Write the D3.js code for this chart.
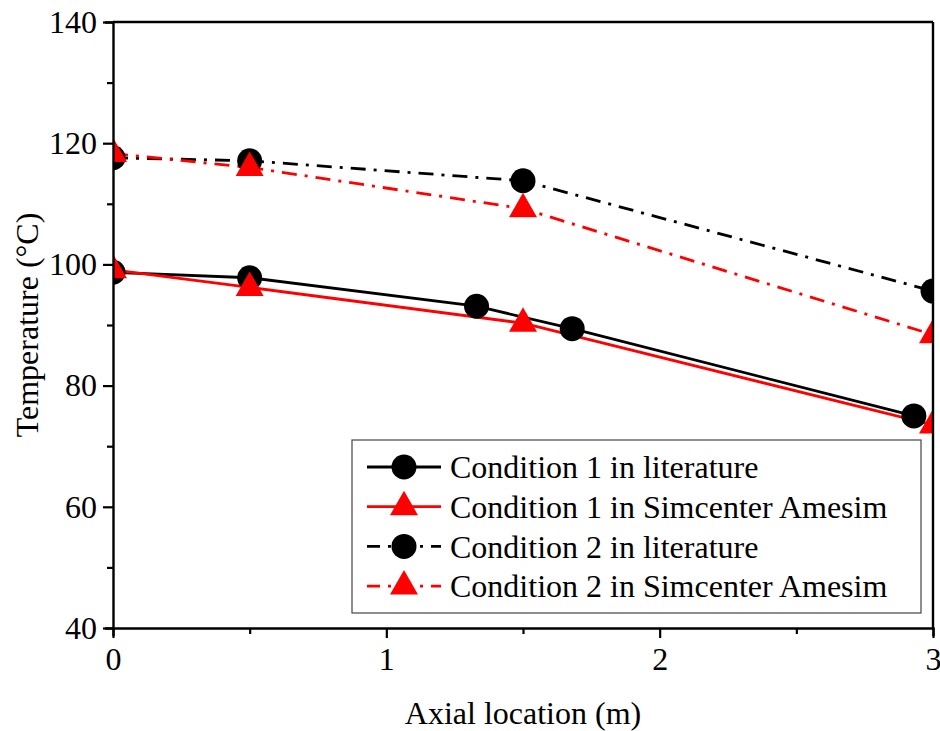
<!DOCTYPE html>
<html>
<head>
<meta charset="utf-8">
<script src="https://cdn.jsdelivr.net/npm/d3@7"></script>
<style>
  body { margin: 0; background: #fff; }
  text { font-family: "Liberation Serif", "Times New Roman", serif; }
</style>
</head>
<body>
<svg id="chart" width="940" height="731"></svg>
<script>
// data
var c1LitX = [0, 0.5, 1.33, 1.68, 2.93];
var c1LitY = [98.7, 97.8, 93.1, 89.4, 75.0];
var c1SimX = [0, 0.5, 1.5, 3];
var c1SimY = [99.1, 96.2, 90.3, 73.5];
var c2LitX = [0, 0.5, 1.5, 3];
var c2LitY = [117.6, 117.1, 113.8, 95.6];
var c2SimX = [0, 0.5, 1.5, 3];
var c2SimY = [118.3, 116.0, 109.2, 88.4];
var xTicks = [0, 1, 2, 3];
var yTicks = [40, 60, 80, 100, 120, 140];
var seriesNames = ['Condition 1 in literature', 'Condition 1 in Simcenter Amesim',
  'Condition 2 in literature', 'Condition 2 in Simcenter Amesim'];

var zip = (xs, ys) => xs.map((x, i) => ({x: x, y: ys[i]}));

var dashDot = '15,8,3,8';
var series = [
  {name: seriesNames[0], pts: zip(c1LitX, c1LitY), color: '#000', dash: null, marker: 'circle'},
  {name: seriesNames[1], pts: zip(c1SimX, c1SimY), color: '#ff0000', dash: null, marker: 'triangle'},
  {name: seriesNames[2], pts: zip(c2LitX, c2LitY), color: '#000', dash: dashDot, marker: 'circle'},
  {name: seriesNames[3], pts: zip(c2SimX, c2SimY), color: '#ff0000', dash: dashDot, marker: 'triangle'}
];

var mLeft = 113, mRight = 933, mTop = 22, mBottom = 628;
var svg = d3.select('#chart');

var x = d3.scaleLinear().domain([0, 3]).range([mLeft, mRight]);
var y = d3.scaleLinear().domain([40, 140]).range([mBottom, mTop]);

svg.append('clipPath').attr('id', 'plotclip').append('rect')
  .attr('x', mLeft).attr('y', mTop).attr('width', mRight - mLeft).attr('height', mBottom - mTop);

var plot = svg.append('g').attr('clip-path', 'url(#plotclip)');

var line = d3.line().x(d => x(d.x)).y(d => y(d.y));
var circleSym = d3.symbol().type(d3.symbolCircle).size(Math.PI * 12.5 * 12.5);
var triPath = 'M0,-16L14,8.5L-14,8.5Z';

var drawMarker = (g, s, cx, cy) => {
  g.append('path')
    .attr('d', s.marker === 'circle' ? circleSym() : triPath)
    .attr('transform', 'translate(' + cx + ',' + cy + ')')
    .style('fill', s.color);
};

series.forEach(s => {
  plot.append('path').datum(s.pts).attr('d', line)
    .style('fill', 'none').style('stroke', s.color).style('stroke-width', 2.8)
    .style('stroke-dasharray', s.dash);
});
series.forEach(s => {
  s.pts.forEach(p => drawMarker(plot, s, x(p.x), y(p.y)));
});

// axes
var xAxis = d3.axisBottom(x).tickValues(d3.range(0, 3.01, 0.5)).tickSize(8)
  .tickFormat(d => xTicks.indexOf(d) >= 0 ? d : '');
var gx = svg.append('g').attr('transform', 'translate(0,' + mBottom + ')').call(xAxis);
gx.selectAll('.tick line').attr('y2', d => xTicks.indexOf(d) >= 0 ? 10 : 6);
gx.selectAll('text').style('font-size', '32px').attr('y', 18).attr('dy', '0.75em');

var yAxis = d3.axisLeft(y).tickValues(d3.range(40, 141, 10)).tickSize(8)
  .tickFormat(d => yTicks.indexOf(d) >= 0 ? d : '');
var gy = svg.append('g').attr('transform', 'translate(' + mLeft + ',0)').call(yAxis);
gy.selectAll('.tick line').attr('x2', d => yTicks.indexOf(d) >= 0 ? -10 : -6);
gy.selectAll('text').style('font-size', '32px').attr('x', -16);

[gx, gy].forEach(g => {
  g.select('.domain').style('stroke-width', 2.4);
  g.selectAll('.tick line').style('stroke-width', 2.2);
});

// frame top/right
svg.append('line').attr('x1', mLeft).attr('x2', mRight).attr('y1', mTop).attr('y2', mTop)
  .style('stroke', '#000').style('stroke-width', 2.4);
svg.append('line').attr('x1', mRight).attr('x2', mRight).attr('y1', mTop).attr('y2', mBottom)
  .style('stroke', '#000').style('stroke-width', 2.4);

// titles
svg.append('text').attr('x', (mLeft + mRight) / 2).attr('y', 724).attr('text-anchor', 'middle')
  .style('font-size', '32px').text('Axial location (m)');
svg.append('text').attr('transform', 'translate(38,' + ((mTop + mBottom) / 2) + ') rotate(-90)')
  .attr('text-anchor', 'middle').style('font-size', '32px').text('Temperature (°C)');

// legend
var lg = svg.append('g');
lg.append('rect').attr('x', 352).attr('y', 440).attr('width', 569).attr('height', 173)
  .style('fill', '#fff').style('stroke', '#444').style('stroke-width', 1.2);
series.forEach((s, i) => {
  var ly = 467 + i * 39.7;
  lg.append('line').attr('x1', 367).attr('x2', 441).attr('y1', ly).attr('y2', ly)
    .style('stroke', s.color).style('stroke-width', 2.8)
    .style('stroke-dasharray', s.dash ? '13,8,3,8' : null);
  drawMarker(lg, s, 404, ly);
  lg.append('text').attr('x', 450).attr('y', ly).attr('dy', '0.35em')
    .style('font-size', '32px').text(s.name);
});
</script>
</body>
</html>
